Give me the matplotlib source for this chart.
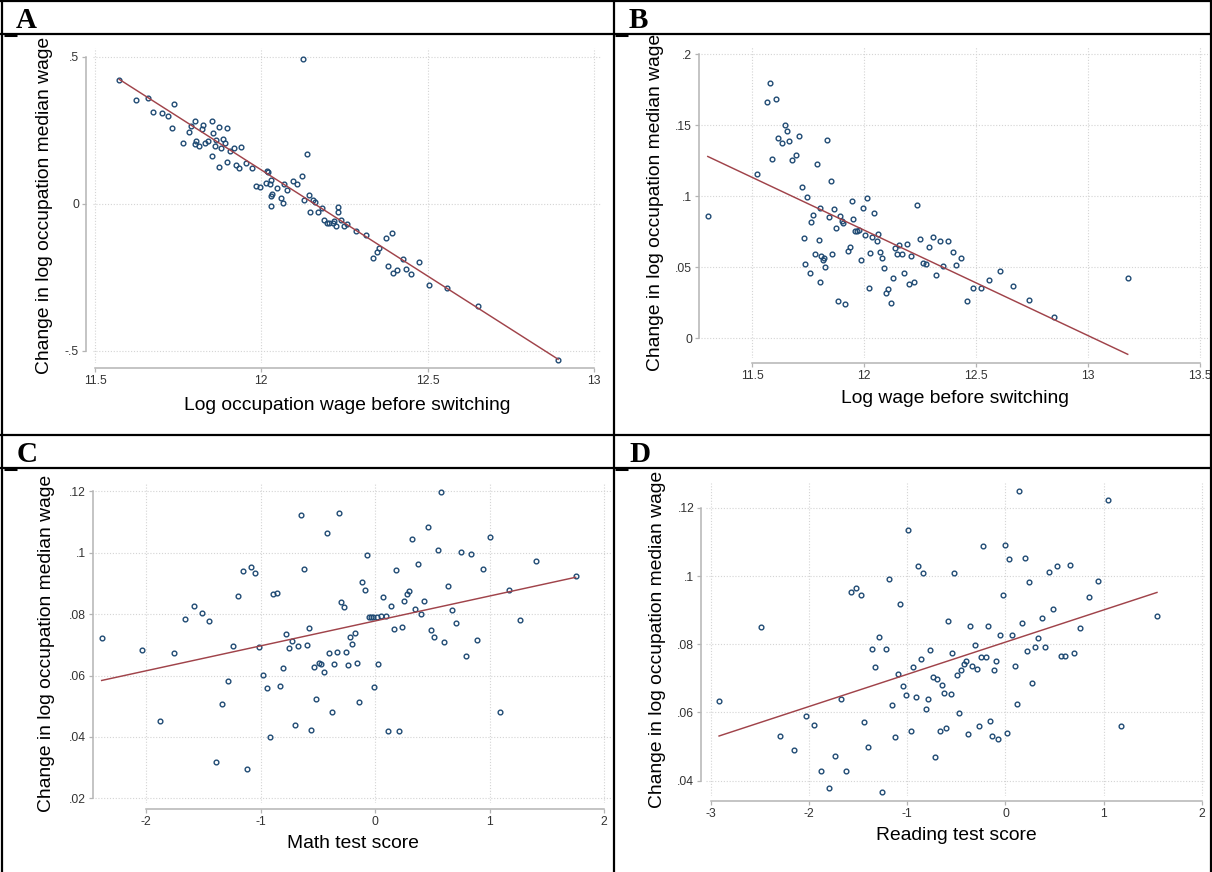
import matplotlib.pyplot as plt
from matplotlib.lines import Line2D

W, H, DPI = 1212, 872, 100

# ---- Panel A: log occupation wage before switching ----
a_x = [11.573, 11.624, 11.659, 11.737, 11.674, 11.702, 11.720, 11.730, 11.802, 11.790,
       11.826, 11.821, 11.852, 11.873, 11.897, 11.782, 11.855, 11.764, 11.803, 11.800,
       11.812, 11.830, 11.839, 11.865, 11.884, 11.890, 11.860, 11.879, 11.905, 11.917,
       11.939, 11.853, 11.898, 11.873, 11.924, 11.934, 11.953, 11.971, 12.018, 12.019,
       12.014, 12.025, 12.030, 11.984, 11.996, 12.046, 12.028, 12.033, 12.059, 12.064,
       12.030, 12.068, 12.077, 12.095, 12.108, 12.121, 12.136, 12.125, 12.129, 12.142,
       12.154, 12.162, 12.147, 12.171, 12.183, 12.188, 12.197, 12.203, 12.215, 12.219,
       12.224, 12.231, 12.229, 12.240, 12.247, 12.259, 12.286, 12.316, 12.374, 12.393,
       12.335, 12.347, 12.355, 12.381, 12.396, 12.409, 12.426, 12.434, 12.451, 12.474,
       12.505, 12.558, 12.651, 12.892]
a_y = [0.421, 0.354, 0.358, 0.340, 0.311, 0.308, 0.298, 0.258, 0.280, 0.264,
       0.268, 0.254, 0.282, 0.262, 0.258, 0.245, 0.240, 0.205, 0.214, 0.204,
       0.196, 0.206, 0.213, 0.217, 0.221, 0.206, 0.197, 0.190, 0.180, 0.191,
       0.194, 0.163, 0.143, 0.126, 0.130, 0.121, 0.140, 0.122, 0.111, 0.109,
       0.072, 0.068, 0.080, 0.061, 0.057, 0.053, 0.025, 0.032, 0.020, 0.001,
       -0.007, 0.067, 0.048, 0.076, 0.068, 0.093, 0.170, 0.491, 0.014, 0.029,
       0.014, 0.006, -0.027, -0.029, -0.014, -0.054, -0.066, -0.066, -0.067, -0.059,
       -0.076, -0.010, -0.027, -0.057, -0.077, -0.069, -0.093, -0.106, -0.116, -0.101,
       -0.186, -0.164, -0.152, -0.212, -0.234, -0.225, -0.188, -0.222, -0.239, -0.199,
       -0.276, -0.287, -0.349, -0.531]
a_fit_x = [11.573, 12.892]
a_fit_y = [0.423, -0.529]

# ---- Panel B: log wage before switching ----
b_x = [11.301, 11.578, 11.566, 11.607, 11.646, 11.655, 11.615, 11.631, 11.666, 11.707,
       11.833, 11.590, 11.678, 11.694, 11.522, 11.788, 11.851, 11.722, 11.743, 11.801,
       11.770, 11.763, 11.843, 11.867, 11.891, 11.876, 11.899, 11.907, 11.945, 11.952,
       11.961, 11.970, 11.979, 11.994, 12.013, 12.046, 12.004, 12.034, 12.057, 12.064,
       11.731, 11.797, 11.781, 11.807, 11.819, 11.815, 11.825, 11.858, 11.736, 11.757,
       11.803, 11.884, 11.916, 11.935, 11.927, 11.987, 12.028, 12.072, 12.081, 12.091,
       12.130, 12.021, 12.109, 12.099, 12.120, 12.139, 12.158, 12.148, 12.169, 12.190,
       12.210, 12.178, 12.199, 12.224, 12.236, 12.249, 12.263, 12.278, 12.291, 12.306,
       12.322, 12.339, 12.355, 12.375, 12.396, 12.435, 12.413, 12.459, 12.489, 12.521,
       12.560, 12.607, 12.665, 12.736, 12.850, 13.179]
b_y = [0.0862, 0.1800, 0.1667, 0.1685, 0.1502, 0.1460, 0.1410, 0.1378, 0.1392, 0.1425,
       0.1394, 0.1263, 0.1258, 0.1293, 0.1160, 0.1230, 0.1110, 0.1068, 0.0998, 0.0920,
       0.0871, 0.0819, 0.0852, 0.0908, 0.0864, 0.0779, 0.0826, 0.0812, 0.0967, 0.0840,
       0.0754, 0.0758, 0.0763, 0.0918, 0.0988, 0.0883, 0.0730, 0.0711, 0.0688, 0.0732,
       0.0704, 0.0692, 0.0594, 0.0580, 0.0568, 0.0552, 0.0500, 0.0596, 0.0521, 0.0458,
       0.0394, 0.0260, 0.0244, 0.0646, 0.0613, 0.0554, 0.0603, 0.0606, 0.0566, 0.0495,
       0.0427, 0.0354, 0.0350, 0.0322, 0.0246, 0.0634, 0.0655, 0.0592, 0.0592, 0.0662,
       0.0577, 0.0462, 0.0383, 0.0394, 0.0939, 0.0700, 0.0530, 0.0526, 0.0641, 0.0714,
       0.0444, 0.0683, 0.0509, 0.0688, 0.0608, 0.0566, 0.0516, 0.0265, 0.0354, 0.0352,
       0.0411, 0.0472, 0.0371, 0.0268, 0.0148, 0.0423]
b_fit_x = [11.301, 13.179]
b_fit_y = [0.128, -0.0113]

# ---- Panel C: math test score ----
c_x = [-2.390, -2.041, -1.762, -1.881, -1.663, -1.587, -1.515, -1.451, -1.387, -1.334,
       -1.285, -1.238, -1.195, -1.154, -1.081, -1.049, -1.116, -1.015, -0.980, -0.948,
       -0.919, -0.890, -0.860, -0.834, -0.808, -0.779, -0.756, -0.727, -0.701, -0.674,
       -0.651, -0.622, -0.599, -0.578, -0.558, -0.535, -0.515, -0.494, -0.471, -0.448,
       -0.424, -0.401, -0.378, -0.358, -0.337, -0.314, -0.294, -0.273, -0.253, -0.236,
       -0.218, -0.198, -0.175, -0.157, -0.137, -0.114, -0.093, -0.073, -0.058, -0.038,
       -0.020, -0.012, 0.012, 0.029, 0.050, 0.070, 0.093, 0.114, 0.140, 0.163,
       0.184, 0.210, 0.233, 0.254, 0.277, 0.297, 0.324, 0.347, 0.376, 0.402,
       0.429, 0.458, 0.484, 0.513, 0.545, 0.574, 0.603, 0.638, 0.673, 0.708,
       0.749, 0.796, 0.840, 0.886, 0.942, 1.006, 1.087, 1.166, 1.262, 1.405,
       1.752]
c_y = [0.0723, 0.0683, 0.0674, 0.0451, 0.0784, 0.0828, 0.0805, 0.0777, 0.0317, 0.0508,
       0.0583, 0.0697, 0.0858, 0.0942, 0.0952, 0.0935, 0.0297, 0.0692, 0.0603, 0.0558,
       0.0400, 0.0865, 0.0870, 0.0565, 0.0625, 0.0734, 0.0691, 0.0712, 0.0440, 0.0697,
       0.1124, 0.0946, 0.0698, 0.0754, 0.0422, 0.0628, 0.0525, 0.0640, 0.0639, 0.0612,
       0.1065, 0.0672, 0.0482, 0.0639, 0.0676, 0.1128, 0.0840, 0.0822, 0.0677, 0.0634,
       0.0725, 0.0704, 0.0737, 0.0641, 0.0514, 0.0906, 0.0879, 0.0994, 0.0790, 0.0791,
       0.0791, 0.0562, 0.0791, 0.0638, 0.0794, 0.0855, 0.0794, 0.0420, 0.0828, 0.0750,
       0.0943, 0.0420, 0.0759, 0.0843, 0.0867, 0.0876, 0.1044, 0.0818, 0.0963, 0.0799,
       0.0842, 0.1083, 0.0747, 0.0727, 0.1009, 0.1199, 0.0710, 0.0891, 0.0812, 0.0770,
       0.1002, 0.0664, 0.0995, 0.0716, 0.0946, 0.1051, 0.0482, 0.0879, 0.0781, 0.0972,
       0.0925]
c_fit_x = [-2.390, 1.752]
c_fit_y = [0.0584, 0.0920]

# ---- Panel D: reading test score ----
d_x = [-2.915, -2.487, -2.297, -2.155, -2.032, -1.944, -1.876, -1.801, -1.740, -1.625,
       -1.679, -1.570, -1.522, -1.475, -1.441, -1.397, -1.357, -1.323, -1.289, -1.258,
       -1.221, -1.187, -1.156, -1.126, -1.095, -1.071, -1.044, -1.017, -0.990, -0.966,
       -0.939, -0.912, -0.888, -0.864, -0.837, -0.813, -0.789, -0.766, -0.742, -0.718,
       -0.694, -0.671, -0.650, -0.626, -0.606, -0.586, -0.559, -0.545, -0.524, -0.495,
       -0.471, -0.451, -0.427, -0.403, -0.380, -0.359, -0.337, -0.315, -0.292, -0.271,
       -0.247, -0.224, -0.203, -0.180, -0.156, -0.136, -0.112, -0.092, -0.071, -0.051,
       -0.027, -0.003, 0.020, 0.041, 0.068, 0.095, 0.119, 0.142, 0.169, 0.200,
       0.224, 0.244, 0.275, 0.305, 0.336, 0.369, 0.407, 0.444, 0.481, 0.522,
       0.563, 0.607, 0.654, 0.702, 0.763, 0.847, 0.939, 1.047, 1.180, 1.542]
d_y = [0.0634, 0.0851, 0.0530, 0.0489, 0.0589, 0.0562, 0.0428, 0.0378, 0.0473, 0.0428,
       0.0639, 0.0953, 0.0965, 0.0944, 0.0572, 0.0499, 0.0785, 0.0733, 0.0822, 0.0368,
       0.0785, 0.0991, 0.0621, 0.0528, 0.0714, 0.0917, 0.0677, 0.0652, 0.1136, 0.0547,
       0.0734, 0.0645, 0.1031, 0.0758, 0.1009, 0.0611, 0.0640, 0.0783, 0.0704, 0.0469,
       0.0699, 0.0545, 0.0680, 0.0657, 0.0553, 0.0867, 0.0653, 0.0775, 0.1008, 0.0709,
       0.0597, 0.0724, 0.0741, 0.0751, 0.0536, 0.0853, 0.0737, 0.0799, 0.0727, 0.0561,
       0.0764, 0.1088, 0.0764, 0.0854, 0.0574, 0.0530, 0.0725, 0.0750, 0.0521, 0.0827,
       0.0945, 0.1091, 0.0540, 0.1049, 0.0828, 0.0735, 0.0626, 0.1251, 0.0862, 0.1053,
       0.0779, 0.0982, 0.0687, 0.0793, 0.0819, 0.0876, 0.0791, 0.1013, 0.0902, 0.1029,
       0.0765, 0.0765, 0.1033, 0.0774, 0.0848, 0.0938, 0.0986, 0.1223, 0.0560, 0.0883]
d_fit_x = [-2.915, 1.542]
d_fit_y = [0.0531, 0.0952]

ylab = "Change in log occupation median wage"

plt.rcParams['font.family'] = ['Liberation Sans', 'DejaVu Sans']
fig = plt.figure(figsize=(W / DPI, H / DPI), dpi=DPI)


def fx(px):
    return px / W


def fy(py):
    return 1 - py / H


def frame_line(x0, y0, x1, y1, lw=1.6):
    fig.add_artist(Line2D([fx(x0), fx(x1)], [fy(y0), fy(y1)], transform=fig.transFigure,
                          color='black', lw=lw, solid_capstyle='butt'))


def panel(box, xs, ys, fit_x, fit_y, xlim, ylim, xticks, xlabels, yticks, ylabels,
          xlabel, off_l, off_b, xlab_y, ylab_x):
    left, top, right, bottom = box
    ax = fig.add_axes([fx(left), fy(bottom), (right - left) / W, (bottom - top) / H])
    ax.set_xlim(xlim)
    ax.set_ylim(ylim)
    ax.set_xticks(xticks, xlabels)
    ax.set_yticks(yticks, ylabels)
    ax.grid(True, color='#d4d4d4', linestyle=(0, (1, 1.6)), lw=0.8)
    ax.set_axisbelow(True)
    for s in ['top', 'right']:
        ax.spines[s].set_visible(False)
    ax.spines['left'].set_position(('outward', off_l * 0.72))
    ax.spines['bottom'].set_position(('outward', off_b * 0.72))
    ax.spines['left'].set_bounds(yticks[0], yticks[-1])
    ax.spines['bottom'].set_bounds(xticks[0], xticks[-1])
    for s in ['left', 'bottom']:
        ax.spines[s].set_color('#b4b4b4')
        ax.spines[s].set_linewidth(1.1)
    ax.tick_params(direction='out', length=3, width=0.9, color='#b4b4b4',
                   labelsize=8.7, labelcolor='#333333', pad=2)
    ax.plot(xs, ys, 'o', ms=3.4, mfc='none', mec='#1f4a73', mew=1.0, ls='none', zorder=3)
    ax.plot(fit_x, fit_y, color='#a0434a', lw=1.05, zorder=4)
    ax.set_xlabel(xlabel, fontsize=13.9)
    ax.set_ylabel(ylab, fontsize=13.9)
    ax.xaxis.set_label_coords(0.5, (bottom - xlab_y) / (bottom - top))
    ax.xaxis.label.set_va('center')
    ax.yaxis.set_label_coords((ylab_x - left) / (right - left), 0.5)
    ax.yaxis.label.set_va('center')
    return ax


panel((93, 48, 601, 363), a_x, a_y, a_fit_x, a_fit_y, (11.494, 13.021), (-0.5418, 0.5296),
      [11.5, 12, 12.5, 13], ['11.5', '12', '12.5', '13'],
      [-0.5, 0, 0.5], ['-.5', '0', '.5'],
      "Log occupation wage before switching", 7, 5, 405, 45)

panel((701, 46, 1208, 358), b_x, b_y, b_fit_x, b_fit_y, (11.2706, 13.538), (-0.0139, 0.2058),
      [11.5, 12, 12.5, 13, 13.5], ['11.5', '12', '12.5', '13', '13.5'],
      [0, 0.05, 0.1, 0.15, 0.2], ['0', '.05', '.1', '.15', '.2'],
      "Log wage before switching", 2, 5, 398, 655)

panel((95, 483, 611, 803), c_x, c_y, c_fit_x, c_fit_y, (-2.448, 2.061), (0.0185, 0.1227),
      [-2, -1, 0, 1, 2], ['-2', '-1', '0', '1', '2'],
      [0.02, 0.04, 0.06, 0.08, 0.1, 0.12], ['.02', '.04', '.06', '.08', '.1', '.12'],
      "Math test score", 2.5, 6, 843, 47)

panel((706, 483, 1206, 796), d_x, d_y, d_fit_x, d_fit_y, (-3.048, 2.041), (0.0355, 0.1273),
      [-3, -2, -1, 0, 1, 2], ['-3', '-2', '-1', '0', '1', '2'],
      [0.04, 0.06, 0.08, 0.1, 0.12], ['.04', '.06', '.08', '.1', '.12'],
      "Reading test score", 4.7, 4.7, 835, 658)

# table frame around the four panels
frame_line(0, 1.2, 1212, 1.2)
frame_line(1.5, 0, 1.5, 872)
frame_line(1210.5, 0, 1210.5, 872)
frame_line(613.5, 0, 613.5, 872)
frame_line(0, 34.5, 1212, 34.5)
frame_line(0, 435, 1212, 435)
frame_line(0, 468.5, 1212, 468.5)
for xs0 in (4, 615):
    for yy in (35.2, 469.2):
        frame_line(xs0, yy, xs0 + 13, yy, lw=2.2)

for letter, lx, ly in [('A', 16, 28), ('B', 629, 28), ('C', 17, 462), ('D', 629, 462)]:
    fig.text(fx(lx), fy(ly), letter, family='Liberation Serif', weight='bold',
             fontsize=21, ha='left', va='baseline')

fig.savefig('out.png', dpi=DPI)
